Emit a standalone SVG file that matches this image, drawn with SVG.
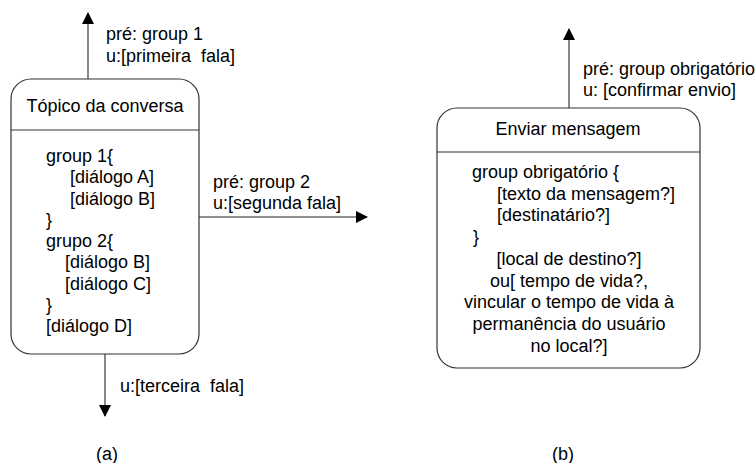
<svg xmlns="http://www.w3.org/2000/svg" width="755" height="463" viewBox="0 0 755 463">
  <style>
    text { font-family: "Liberation Sans", Arial, sans-serif; font-size: 18px; fill: #000; white-space: pre; }
    .box { fill: #fff; stroke: #333; stroke-width: 1.2; }
    .sep { stroke: #333; stroke-width: 1.2; }
    .edge { stroke: #6b6b6b; stroke-width: 1.6; fill: none; }
    .mid { text-anchor: middle; }
  </style>
  <defs>
    <marker id="arrow" viewBox="0 0 12 12" refX="11" refY="6" markerWidth="12" markerHeight="12" markerUnits="userSpaceOnUse" orient="auto">
      <path d="M0,0 L12,6 L0,12 Z" fill="#000"/>
    </marker>
  </defs>
  <rect width="755" height="463" fill="#fff"/>

  <!-- transitions -->
  <g id="connectors">
    <line class="edge" x1="88" y1="79" x2="88" y2="13" marker-end="url(#arrow)"/>
    <text x="106" y="40">pré: group 1</text>
    <text x="106" y="62" xml:space="preserve">u:[primeira  fala]</text>

    <line class="edge" x1="199" y1="217" x2="367" y2="217" marker-end="url(#arrow)"/>
    <text x="213" y="188">pré: group 2</text>
    <text x="213" y="209">u:[segunda fala]</text>

    <line class="edge" x1="105" y1="354" x2="105" y2="416" marker-end="url(#arrow)"/>
    <text x="120" y="392" xml:space="preserve">u:[terceira  fala]</text>

    <line class="edge" x1="569" y1="108" x2="569" y2="29" marker-end="url(#arrow)"/>
    <text x="583" y="75">pré: group obrigatório</text>
    <text x="583" y="96">u: [confirmar envio]</text>
  </g>

  <!-- state: Tópico da conversa -->
  <g id="topico">
    <rect class="box" x="11" y="79" width="188" height="275" rx="20" ry="20"/>
    <line class="sep" x1="11" y1="130" x2="199" y2="130"/>
    <text class="mid" x="105" y="112">Tópico da conversa</text>
    <text x="46" y="162">group 1{</text>
    <text x="70" y="183">[diálogo A]</text>
    <text x="70" y="205">[diálogo B]</text>
    <text x="46" y="226">}</text>
    <text x="46" y="247">grupo 2{</text>
    <text x="65" y="268">[diálogo B]</text>
    <text x="65" y="290">[diálogo C]</text>
    <text x="46" y="311">}</text>
    <text x="46" y="332">[diálogo D]</text>
  </g>

  <!-- state: Enviar mensagem -->
  <g id="enviar">
    <rect class="box" x="437" y="108" width="263" height="260" rx="20" ry="20"/>
    <line class="sep" x1="437" y1="152" x2="700" y2="152"/>
    <text class="mid" x="568" y="135">Enviar mensagem</text>
    <text x="472" y="178">group obrigatório {</text>
    <text x="497" y="200">[texto da mensagem?]</text>
    <text x="497" y="221">[destinatário?]</text>
    <text x="473" y="243">}</text>
    <text class="mid" x="569" y="265">[local de destino?]</text>
    <text class="mid" x="569" y="287">ou[ tempo de vida?,</text>
    <text class="mid" x="569" y="308">vincular o tempo de vida à</text>
    <text class="mid" x="569" y="330">permanência do usuário</text>
    <text class="mid" x="569" y="352">no local?]</text>
  </g>

  <!-- captions -->
  <text class="mid" x="107" y="460">(a)</text>
  <text class="mid" x="563" y="460">(b)</text>
</svg>
